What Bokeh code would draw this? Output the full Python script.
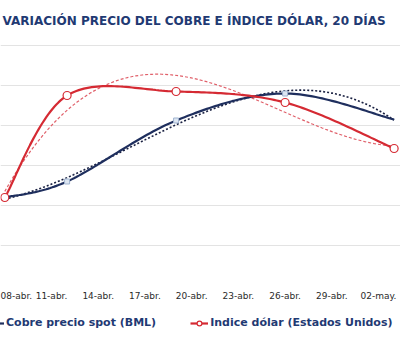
import numpy as np
from bokeh.plotting import figure
from bokeh.models import FixedTicker, Legend, LegendItem
from bokeh.layouts import column
from bokeh.embed import file_html
from bokeh.resources import INLINE

# ---- data (arbitrary index scale, one gridline = 1 unit)
dates = ["08-abr", "12-abr", "19-abr", "26-abr", "03-may"]
days = [0, 4, 11, 18, 25]          # days since 08-abr
cobre = [1.2, 1.6, 3.125, 3.8, 3.15]
dolar = [1.2, 3.75, 3.85, 3.575, 2.425]
tick_days = [0, 3, 6, 9, 12, 15, 18, 21, 24]
tick_labels = ["08-abr.", "11-abr.", "14-abr.", "17-abr.", "20-abr.",
               "23-abr.", "26-abr.", "29-abr.", "02-may."]
y_ticks = [-1, 0, 1, 2, 3, 4, 5]
series_names = ["Cobre precio spot (BML)", "Indice dólar (Estados Unidos)"]

NAVY = "#1f2f5e"
RED = "#d52a33"
TXT = "#1f3a73"


def smooth(xs, ys, n=40):
    P = np.column_stack([xs, ys]).astype(float)
    out = []
    m = len(P)
    for i in range(m - 1):
        p0 = P[i - 1] if i > 0 else P[i]
        p1, p2 = P[i], P[i + 1]
        p3 = P[i + 2] if i + 2 < m else P[i + 1]
        c1 = p1 + (p2 - p0) / 6.0
        c2 = p2 - (p3 - p1) / 6.0
        t = np.linspace(0, 1, n)[:, None]
        seg = ((1 - t) ** 3) * p1 + 3 * ((1 - t) ** 2) * t * c1 + 3 * (1 - t) * t ** 2 * c2 + t ** 3 * p2
        out.append(seg if i == 0 else seg[1:])
    arr = np.vstack(out)
    return arr[:, 0], arr[:, 1]


def trend(xs, ys, n=120):
    c = np.polyfit(xs, ys, 3)
    xx = np.linspace(min(xs), max(xs), n)
    return xx, np.polyval(c, xx)


p = figure(width=400, height=305, output_backend="svg", toolbar_location=None,
           x_range=(-0.276, 25.41), y_range=(-1, 5.2),
           min_border_left=0, min_border_right=0, min_border_top=37,
           min_border_bottom=20)
p.outline_line_color = None
p.background_fill_color = "white"
p.border_fill_color = "white"

p.title.text = "VARIACIÓN PRECIO DEL COBRE E ÍNDICE DÓLAR, 20 DÍAS"
p.title.text_font = "DejaVu Sans"
p.title.text_font_size = "12px"
p.title.text_font_style = "bold"
p.title.text_color = TXT
p.title.align = "left"
p.title.offset = 2
p.title.standoff = 20

p.yaxis.visible = False
p.ygrid.ticker = FixedTicker(ticks=y_ticks)
p.ygrid.grid_line_color = "#e3e3e3"
p.ygrid.grid_line_width = 1
p.xgrid.visible = False

ax = p.xaxis[0]
ax.ticker = FixedTicker(ticks=tick_days)
ax.major_label_overrides = {d: l for d, l in zip(tick_days, tick_labels)}
ax.axis_line_color = None
ax.major_tick_line_color = None
ax.minor_tick_line_color = None
ax.major_tick_out = 0
ax.major_tick_in = 0
ax.major_label_standoff = 5
ax.major_label_text_font = "DejaVu Sans"
ax.major_label_text_font_size = "9px"
ax.major_label_text_color = "#2a2a2a"

# trend lines
tx, ty = trend(days, dolar)
p.line(tx, ty, line_color="#e0606a", line_width=1.2, line_dash="3 2")
tx, ty = trend(days, cobre)
p.line(tx, ty, line_color="#1a2142", line_width=1.6, line_dash="2 2")

# smoothed series
sx, sy = smooth(days, cobre)
p.line(sx, sy, line_color=NAVY, line_width=2.2)
p.scatter(days[1:-1], cobre[1:-1], marker="square", size=5,
          fill_color="#dde6f2", line_color="#9fb3cf", line_width=1)
sx, sy = smooth(days, dolar)
p.line(sx, sy, line_color=RED, line_width=2.2)
p.scatter(days, dolar, marker="circle", size=8,
          fill_color="white", line_color=RED, line_width=1.2)

# legend strip (separate small figure below the chart); its proxy glyphs hold
# the first data points but lie outside the strip's ranges, so only the legend shows
lg = figure(width=400, height=48, output_backend="svg", toolbar_location=None,
            x_range=(100, 101), y_range=(100, 101),
            min_border_left=0, min_border_right=0, min_border_top=0, min_border_bottom=0)
lg.axis.visible = False
lg.grid.visible = False
lg.outline_line_color = None
lg_c = lg.line(x=days[:2], y=cobre[:2], line_color=NAVY, line_width=2.2)
lg_d1 = lg.line(x=days[:2], y=dolar[:2], line_color=RED, line_width=2.2)
lg_d2 = lg.scatter(x=days[:1], y=dolar[:1], marker="circle", size=8, fill_color="white",
                   line_color=RED, line_width=1.2)
legend = Legend(items=[LegendItem(label=series_names[0], renderers=[lg_c]),
                       LegendItem(label=series_names[1], renderers=[lg_d1, lg_d2])],
                orientation="horizontal", location=(-14, 24),
                label_text_font="DejaVu Sans", label_text_font_size="11px",
                label_text_font_style="bold", label_text_color=TXT,
                glyph_width=18, glyph_height=12, label_standoff=2, spacing=34,
                padding=0, margin=0, border_line_color=None,
                background_fill_alpha=0)
lg.add_layout(legend, "center")

layout = column(p, lg, spacing=0)
open("out.html", "w").write(file_html(layout, INLINE))
